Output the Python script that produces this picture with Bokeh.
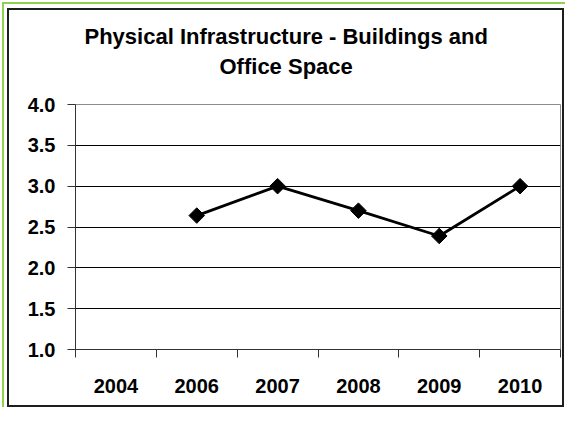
import math
from bokeh.plotting import figure
from bokeh.models import ColumnDataSource, FixedTicker, NumeralTickFormatter, Range1d, Title
from bokeh.embed import file_html
from bokeh.resources import INLINE

# ---- data ----
title_lines = ["Physical Infrastructure - Buildings and", "Office Space"]
years = ["2004", "2006", "2007", "2008", "2009", "2010"]
scores = [float("nan"), 2.64, 3.0, 2.70, 2.39, 3.0]
y_ticks = [1.0, 1.5, 2.0, 2.5, 3.0, 3.5, 4.0]

FONT = "Liberation Sans"
W, H = 565, 407

centers = [i + 0.5 for i in range(len(years))]
bounds = list(range(len(years) + 1))
src = ColumnDataSource(dict(x=centers, y=scores, year=years))

p = figure(width=W, height=H, output_backend="svg", toolbar_location=None, title=None,
           x_range=Range1d(0, len(years)), y_range=Range1d(y_ticks[0], y_ticks[-1]),
           min_border_left=75, min_border_right=5, min_border_top=104, min_border_bottom=58,
           background_fill_color="white", border_fill_color=None)

# chart frame: green edge at top/left, dark box border
p.styles = {
    "background-color": "#ffffff",
    "box-shadow": ("inset 1px 1px 0 1px #ffffff, inset 2px 2px 0 2px #92D050, "
                   "inset 3px 4px 0 4px #ffffff, inset 3px 4px 0 6px #1e1e1e"),
}

p.outline_line_color = "#8c8c8c"
p.outline_line_width = 1

# grid
p.xgrid.grid_line_color = None
p.ygrid.ticker = FixedTicker(ticks=y_ticks)
p.ygrid.grid_line_color = "#000000"
p.ygrid.grid_line_width = 1

# y axis
ya = p.yaxis[0]
ya.ticker = FixedTicker(ticks=y_ticks)
ya.formatter = NumeralTickFormatter(format="0.0")
ya.major_tick_out = 8
ya.major_tick_in = 0
ya.minor_tick_line_color = None
ya.major_tick_line_color = "#333333"
ya.axis_line_color = "#333333"
ya.major_label_standoff = 12
ya.major_label_text_font = FONT
ya.major_label_text_font_style = "bold"
ya.major_label_text_font_size = "20px"
ya.major_label_text_color = "#000000"

# x axis
xa = p.xaxis[0]
xa.ticker = FixedTicker(ticks=centers, minor_ticks=bounds)
xa.major_label_overrides = {c: y for c, y in zip(centers, years)}
xa.major_tick_line_color = None
xa.minor_tick_out = 8
xa.minor_tick_in = 0
xa.minor_tick_line_color = "#333333"
xa.axis_line_color = "#333333"
xa.major_label_standoff = 21
xa.major_label_text_font = FONT
xa.major_label_text_font_style = "bold"
xa.major_label_text_font_size = "20px"
xa.major_label_text_color = "#000000"

# series
p.line("x", "y", source=src, line_color="black", line_width=2.8)
p.scatter("x", "y", source=src, marker="square", angle=math.pi / 4, size=11,
          fill_color="black", line_color="black")

# two-line title (second line nearest the plot is added first)
for text, off, stand in [(title_lines[1], 144, 51), (title_lines[0], 9, -44)]:
    p.add_layout(Title(text=text, align="left", offset=off, standoff=stand,
                       text_font=FONT, text_font_style="bold", text_font_size="22px",
                       text_color="#000000"), "above")

open("out.html", "w").write(file_html(p, INLINE))
